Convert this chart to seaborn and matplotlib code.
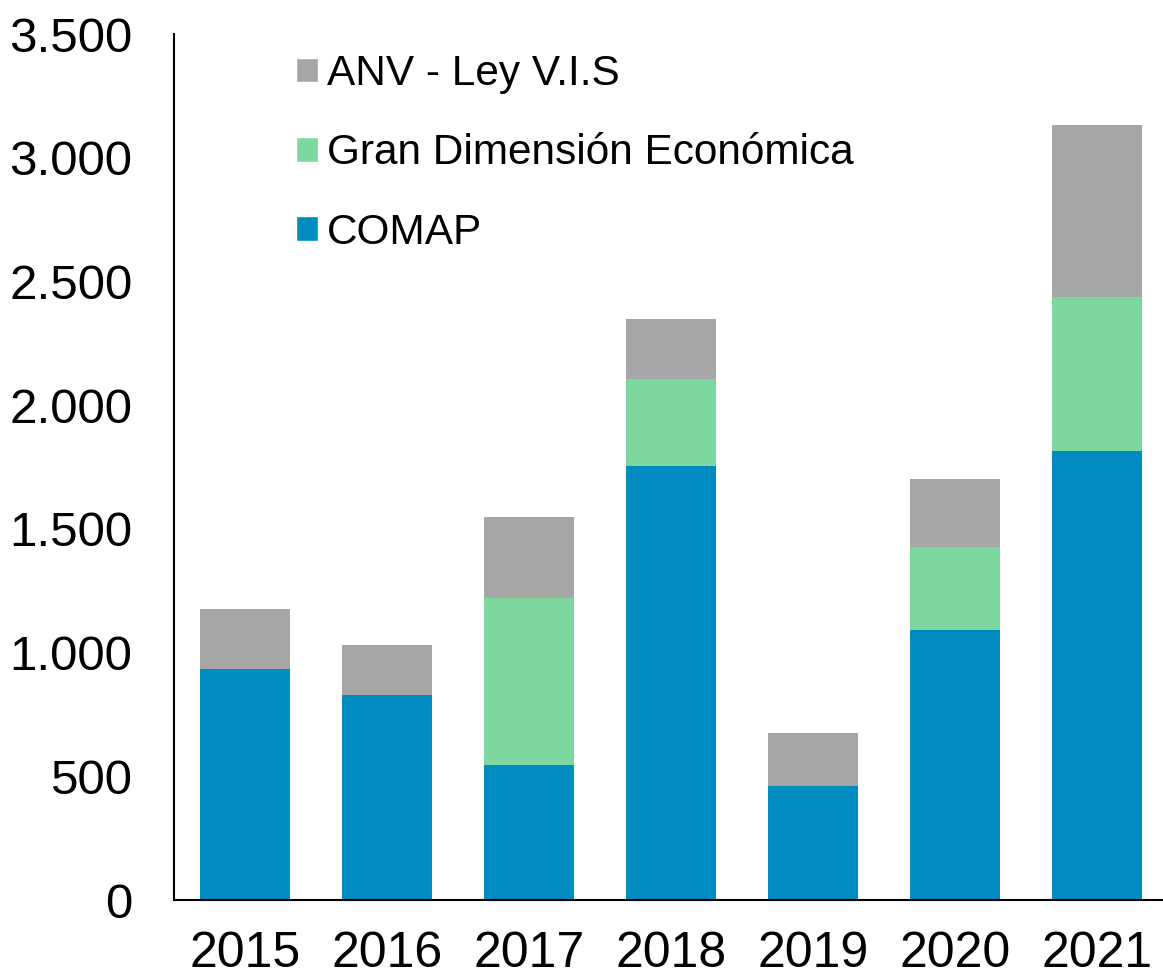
import numpy as np
import pandas as pd
import matplotlib
matplotlib.use("Agg")
import matplotlib.pyplot as plt
import seaborn as sns
from matplotlib.patches import Patch
from matplotlib.ticker import FuncFormatter

# datos
years = ["2015", "2016", "2017", "2018", "2019", "2020", "2021"]
comap = [934, 829, 547, 1754, 460, 1091, 1815]
gran_dimension = [0, 0, 672, 353, 0, 336, 621]
anv_ley_vis = [242, 200, 328, 241, 216, 275, 698]

c_comap = "#008cc1"
c_gde = "#7cd89e"
c_anv = "#a6a6a6"

sns.set_style("white")
plt.rcParams['font.family'] = ['Liberation Sans', 'DejaVu Sans']
plt.rcParams['text.color'] = 'black'
plt.rcParams['xtick.color'] = 'black'
plt.rcParams['ytick.color'] = 'black'

df = pd.DataFrame({
    "year": years,
    "comap": comap,
    "gde": gran_dimension,
    "anv": anv_ley_vis,
})
df["lvl2"] = df["comap"] + df["gde"]
df["lvl3"] = df["lvl2"] + df["anv"]

fig = plt.figure(figsize=(11.63, 9.75), dpi=100)
ax = fig.add_axes([174 / 1163, 75 / 975, 989 / 1163, 866 / 975])

# apilado: se dibuja el total y luego se superponen los niveles inferiores
sns.barplot(data=df, x="year", y="lvl3", color=c_anv, width=0.63,
            saturation=1, ax=ax, linewidth=0)
sns.barplot(data=df, x="year", y="lvl2", color=c_gde, width=0.63,
            saturation=1, ax=ax, linewidth=0)
sns.barplot(data=df, x="year", y="comap", color=c_comap, width=0.63,
            saturation=1, ax=ax, linewidth=0)

ax.set_ylim(0, 3500)
ax.set_xlim(-0.5, -0.5 + 989 / 142)
ax.set_yticks(np.arange(0, 3501, 500))
ax.yaxis.set_major_formatter(FuncFormatter(lambda v, p: f"{int(v):,}".replace(",", ".")))
ax.set_xlabel("")
ax.set_ylabel("")
ax.tick_params(axis="y", length=0, pad=30, labelsize=35.5, labelcolor="black")
ax.tick_params(axis="x", length=0, pad=22, labelsize=36, labelcolor="black")

sns.despine(ax=ax)
for s in ["left", "bottom"]:
    ax.spines[s].set_color("black")
    ax.spines[s].set_linewidth(1.5)

handles = [
    Patch(facecolor=c_anv, label="ANV - Ley V.I.S"),
    Patch(facecolor=c_gde, label="Gran Dimensión Económica"),
    Patch(facecolor=c_comap, label="COMAP"),
]
leg = ax.legend(handles=handles, loc="upper left", bbox_to_anchor=(0.085, 1.021),
                frameon=False, fontsize=30.5, handlelength=0.52, handleheight=0.52,
                handletextpad=0.2, labelspacing=0.93)
for t in leg.get_texts():
    t.set_color("black")

fig.savefig("out.png", dpi=100)
